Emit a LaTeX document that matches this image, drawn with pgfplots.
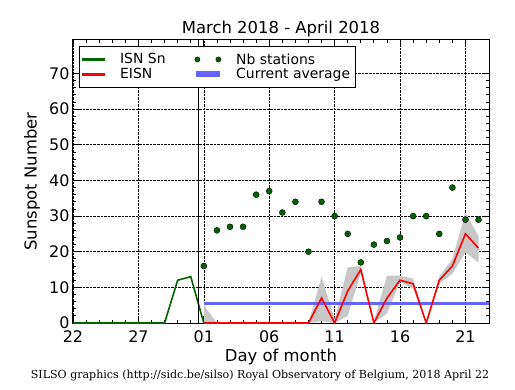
\documentclass[border=0pt]{standalone}
\usepackage{pgfplots}
\pgfplotsset{compat=1.18}
\usepackage{fontspec}
\setmainfont{DejaVu Sans}
\newfontfamily\footserif{DejaVu Serif}
\definecolor{isn}{RGB}{0,100,0}
\definecolor{cavg}{RGB}{100,100,255}
\definecolor{band}{RGB}{200,200,200}
\pgfplotsset{
  isnleg/.style={legend image code/.code={\fill[fill=isn] (0bp,-0.8bp) rectangle (21bp,0.8bp);}},
  eisnleg/.style={legend image code/.code={\fill[fill=red] (0bp,-0.8bp) rectangle (21bp,0.8bp);}},
  avgleg/.style={legend image code/.code={\fill[fill=cavg] (0bp,-1.5bp) rectangle (21bp,1.5bp);}},
  dotleg/.style={legend image code/.code={
    \fill[isn, draw=black, line width=0.4bp] (0bp,0bp) circle (2.6bp);
    \fill[isn, draw=black, line width=0.4bp] (21bp,0bp) circle (2.6bp);}},
}
\begin{document}
\begin{tikzpicture}
\begin{axis}[
  at={(0bp,0bp)}, anchor=south west,
  scale only axis, width=416bp, height=283bp,
  xmin=0, xmax=31.8, ymin=0, ymax=79.4,
  xtick={0,5,...,30}, xticklabels={22,27,01,06,11,16,21},
  minor x tick num=4,
  ytick={0,10,...,70}, minor y tick num=4,
  xtick pos=both, ytick pos=both,
  tick align=inside,
  major tick length=6.7bp, minor tick length=3.5bp,
  grid=major, major grid style={densely dotted, black, line width=0.6bp},
  axis line style={line width=1bp},
  every tick/.style={black, line width=0.8bp},
  tick label style={font=\fontsize{16}{19}\selectfont},
  xticklabel style={yshift=-4.5bp},
  /pgf/number format/assume math mode=true,
  xlabel={Day of month}, ylabel={Sunspot Number},
  label style={font=\fontsize{16.5}{19}\selectfont},
  xlabel style={at={(axis description cs:0.5,-0.12)}, anchor=center},
  ylabel style={at={(axis description cs:-0.0986,0.5)}, anchor=center},
  every axis title shift=0pt,
  title={March 2018 - April 2018},
  title style={at={(axis description cs:0.5,1.04)}, anchor=center, font=\fontsize{16.5}{19}\selectfont},
  legend columns=2,
  legend cell align=left,
  legend style={at={(axis description cs:0.0144,0.979)}, anchor=north west,
    draw=black, line width=1bp, fill=white,
    font=\fontsize{14}{16}\selectfont,
    inner xsep=3bp, inner ysep=5bp, row sep=-1bp,
    /tikz/every odd column/.append style={column sep=13bp},
    /tikz/every even column/.append style={column sep=27bp}},
]
% uncertainty band (lower edge forward, upper edge back)
\addplot[fill=band, draw=none, forget plot] coordinates {
(10,0) (11,0) (12,0) (13,0) (14,0) (15,0) (16,0) (17,0) (18,0)
(19,0.5) (20,0) (21,2) (22,14) (23,0) (24,2.7) (25,11.5) (26,9.6)
(27,0) (28,11) (29,13.8) (30,19.8) (31,17)
(31,24.4) (30,30.9) (29,18) (28,13) (27,0) (26,12.4) (25,13.3) (24,13.3)
(23,0.5) (22,16) (21,15.6) (20,1) (19,13) (18,0) (17,0) (16,0) (15,0)
(14,0) (13,0) (12,0) (11,0) (10,5)} -- cycle;
% current average
\addplot[cavg, line width=3bp, forget plot] coordinates {(10,5.6) (32,5.6)};
% EISN
\addplot[red, line width=1.6bp, forget plot] coordinates {
(10,0) (11,0) (12,0) (13,0) (14,0) (15,0) (16,0) (17,0) (18,0)
(19,7) (20,0) (21,9) (22,15) (23,0) (24,7) (25,12) (26,11)
(27,0) (28,12) (29,16) (30,25) (31,21)};
% ISN Sn
\addplot[isn, line width=1.6bp, forget plot] coordinates {
(0,0) (1,0) (2,0) (3,0) (4,0) (5,0) (6,0) (7,0) (8,12) (9,13) (10,0)};
% vertical marker
\addplot[black, line width=1.4bp, forget plot] coordinates {(9.6,0) (9.6,79.4)};
% Nb stations
\addplot[only marks, mark=*, mark size=3bp, mark options={fill=isn, draw=black, line width=0.4bp}, forget plot] coordinates {
(10,16) (11,26) (12,27) (13,27) (14,36) (15,37) (16,31) (17,34) (18,20)
(19,34) (20,30) (21,25) (22,17) (23,22) (24,23) (25,24) (26,30) (27,30)
(28,25) (29,38) (30,29) (31,29)};
% legend
\addlegendimage{isn, line width=1.6bp, isnleg}
\addlegendimage{dotleg}
\addlegendimage{red, line width=1.6bp, eisnleg}
\addlegendimage{cavg, line width=3bp, avgleg}
\legend{ISN Sn, Nb stations, EISN, Current average}
\end{axis}
\node[font=\footserif\fontsize{11.1}{13}\selectfont, anchor=center] at (187bp,-53bp) {SILSO graphics (http://sidc.be/silso) Royal Observatory of Belgium, 2018 April 22};
\pgfresetboundingbox
\path[use as bounding box] (-73bp,-67bp) rectangle (442bp,323bp);
\end{tikzpicture}
\end{document}
